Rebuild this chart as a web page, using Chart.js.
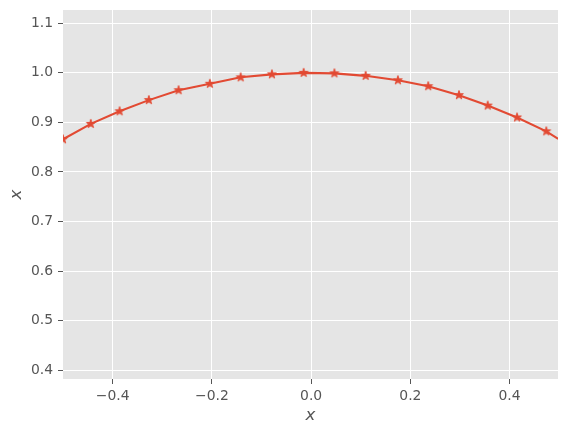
<!DOCTYPE html>
<html><head><meta charset="utf-8">
<script src="https://cdn.jsdelivr.net/npm/chart.js@4/dist/chart.umd.min.js"></script>
<style>html,body{margin:0;padding:0;background:#fff}</style>
</head><body>
<canvas id="c" width="568" height="433"></canvas>
<script>
const xValues = [-0.5, -0.444, -0.386, -0.327, -0.267, -0.204, -0.142, -0.079, -0.015, 0.047, 0.110, 0.175, 0.236, 0.298, 0.356, 0.415, 0.474, 0.498];
const yValues = [0.866, 0.897, 0.9225, 0.945, 0.965, 0.978, 0.991, 0.997, 1.000, 0.999, 0.994, 0.985, 0.973, 0.955, 0.934, 0.910, 0.882, 0.867];
const markerShown = [1,1,1,1,1,1,1,1,1,1,1,1,1,1,1,1,1,0];
const xTicks = [-0.4, -0.2, 0.0, 0.2, 0.4];
const yTicks = [0.4, 0.5, 0.6, 0.7, 0.8, 0.9, 1.0, 1.1];
const xLimits = [-0.5, 0.4976];
const yLimits = [0.3824, 1.1268];
const xLabel = 'x';
const yLabel = 'x';

const RED = '#E24A33';
const GREY = '#555555';
const FONT = 'DejaVu Sans';

function makeStar() {
  const c = document.createElement('canvas');
  c.width = 14; c.height = 14;
  const g = c.getContext('2d');
  const R = 4.6, r = R * 0.382, cx = 7, cy = 7;
  g.beginPath();
  for (let i = 0; i < 10; i++) {
    const a = -Math.PI / 2 + i * Math.PI / 5;
    const rad = i % 2 === 0 ? R : r;
    const px = cx + rad * Math.cos(a), py = cy + rad * Math.sin(a);
    if (i === 0) g.moveTo(px, py); else g.lineTo(px, py);
  }
  g.closePath();
  g.fillStyle = RED; g.strokeStyle = RED; g.lineWidth = 1; g.lineJoin = 'miter';
  g.fill(); g.stroke();
  return c;
}
const star = makeStar();

const fmt = v => Number(v).toFixed(1).replace('-', '\u2212');

const bgPlugin = {
  id: 'bg',
  beforeDraw(chart) {
    const {ctx, chartArea: a} = chart;
    ctx.save();
    ctx.fillStyle = '#E5E5E5';
    ctx.fillRect(a.left, a.top, a.right - a.left, a.bottom - a.top);
    ctx.restore();
  }
};

new Chart(document.getElementById('c'), {
  type: 'line',
  data: {
    datasets: [{
      data: xValues.map((x, i) => ({x, y: yValues[i]})),
      borderColor: RED,
      backgroundColor: RED,
      borderWidth: 2.1,
      pointStyle: star,
      pointRadius: markerShown.map(m => m ? 5 : 0),
      pointHoverRadius: 0,
      tension: 0,
      fill: false,
      clip: 0
    }]
  },
  options: {
    responsive: false,
    animation: false,
    events: [],
    layout: {padding: {left: 0, right: 10, top: 10, bottom: 0}},
    plugins: {legend: {display: false}, tooltip: {enabled: false}},
    scales: {
      x: {
        type: 'linear',
        min: xLimits[0], max: xLimits[1],
        afterBuildTicks: s => { s.ticks = xTicks.map(v => ({value: v})); },
        afterFit: s => { s.height = 54; s.paddingLeft = 0; s.paddingRight = 0; },
        grid: {color: '#ffffff', lineWidth: 1, tickColor: GREY, tickLength: 5, tickWidth: 1, drawTicks: true},
        border: {display: false},
        ticks: {color: GREY, font: {family: FONT, size: 13.9}, padding: 4, maxRotation: 0, autoSkip: false, callback: v => fmt(v)},
        title: {display: true, text: xLabel, color: GREY, font: {family: FONT, size: 16.7, style: 'italic'}, padding: {top: 0, bottom: 7}}
      },
      y: {
        type: 'linear',
        min: yLimits[0], max: yLimits[1],
        afterBuildTicks: s => { s.ticks = yTicks.map(v => ({value: v})); },
        afterFit: s => { s.width = 63; s.paddingTop = 0; s.paddingBottom = 0; },
        grid: {color: '#ffffff', lineWidth: 1, tickColor: GREY, tickLength: 5, tickWidth: 1, drawTicks: true},
        border: {display: false},
        ticks: {color: GREY, font: {family: FONT, size: 13.9}, padding: 5, autoSkip: false, callback: v => fmt(v)},
        title: {display: true, text: yLabel, color: GREY, font: {family: FONT, size: 16.7, style: 'italic'}, padding: {top: 7, bottom: 0}}
      }
    }
  },
  plugins: [bgPlugin]
});
</script>
</body></html>
